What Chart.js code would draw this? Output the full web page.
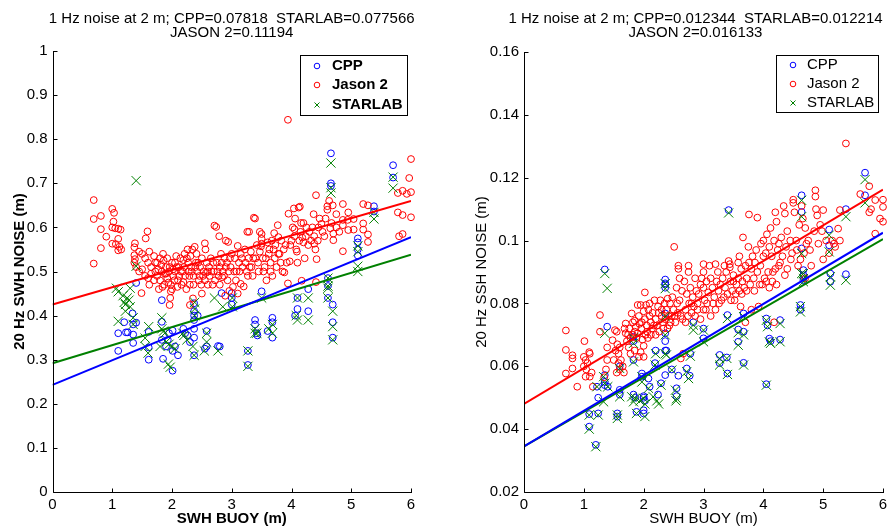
<!DOCTYPE html>
<html>
<head>
<meta charset="utf-8">
<script src="https://cdn.jsdelivr.net/npm/chart.js"></script>
<style>
    html, body { margin: 0; padding: 0; background: #fff; }
    #wrap { position: relative; width: 895px; height: 526px; }
    .panel { position: absolute; top: 0; height: 526px; }
    #left { left: 0; width: 450px; }
    #right { left: 450px; width: 445px; }
</style>
</head>
<body>
<div id="wrap">
    <div class="panel" id="left"><canvas id="chartL"></canvas></div>
    <div class="panel" id="right"><canvas id="chartR"></canvas></div>
</div>
<script>
var seriesNames = ['CPP', 'Jason 2', 'STARLAB'];
var seriesColors = ['#0000ff', '#ff0000', '#008000'];

var titleL = ['1 Hz noise at 2 m; CPP=0.07818  STARLAB=0.077566', 'JASON 2=0.11194'];
var titleR = ['1 Hz noise at 2 m; CPP=0.012344  STARLAB=0.012214', 'JASON 2=0.016133'];

var xTicks = [0, 1, 2, 3, 4, 5, 6];
var xTickLabels = ['0', '1', '2', '3', '4', '5', '6'];
var yTicksL = [0, 0.1, 0.2, 0.3, 0.4, 0.5, 0.6, 0.7, 0.8, 0.9, 1];
var yTickLabelsL = ['0', '0.1', '0.2', '0.3', '0.4', '0.5', '0.6', '0.7', '0.8', '0.9', '1'];
var yTicksR = [0.02, 0.04, 0.06, 0.08, 0.1, 0.12, 0.14, 0.16];
var yTickLabelsR = ['0.02', '0.04', '0.06', '0.08', '0.1', '0.12', '0.14', '0.16'];

// regression lines, value at SWH = 0 and 6
var fitX = [0, 6];
var fitCppL = [0.243, 0.578];
var fitJasonL = [0.425, 0.660];
var fitStarL = [0.292, 0.538];
var fitCppR = [0.0345, 0.1025];
var fitJasonR = [0.0480, 0.1162];
var fitStarR = [0.0345, 0.1005];

// 20 Hz SWH noise (left panel)
var jasonL = [
    [0.69,0.662],[0.69,0.619],[0.81,0.626],[0.81,0.596],[0.9,0.579],[0.81,0.553],[0.69,0.518],
    [1.0,0.642],[1.03,0.633],[1.02,0.613],[1.0,0.60],[1.05,0.598],[1.1,0.597],[1.14,0.595],[1.1,0.574],[1.0,0.563],
    [1.06,0.562],[1.12,0.556],[1.15,0.55],[1.1,0.548],
    [1.38,0.564],[1.37,0.555],[1.59,0.591],[1.56,0.575],[1.37,0.537],[1.38,0.528],[1.37,0.52],[1.4,0.51],[1.45,0.545],
    [1.5,0.54],[1.55,0.53],[1.6,0.52],[1.62,0.545],[1.65,0.51],[1.7,0.535],[1.72,0.5],[1.5,0.505],[1.45,0.5],[1.55,0.49],
    [1.6,0.485],[1.65,0.495],[1.49,0.451],[1.62,0.47],[1.7,0.48],[1.75,0.52],[1.78,0.46],[1.8,0.53],[1.85,0.54],[1.83,0.5],
    [1.88,0.495],[1.9,0.51],[1.92,0.485],[1.95,0.5],[1.96,0.424],[1.97,0.44],[2.0,0.46],[1.98,0.47],[2.02,0.49],[2.05,0.5],
    [2.05,0.52],[2.08,0.51],[2.1,0.48],[2.12,0.49],[2.15,0.5],[2.19,0.476],[2.19,0.526],[2.2,0.51],[2.22,0.49],[2.25,0.53],
    [2.26,0.55],[2.28,0.5],[2.3,0.424],[2.3,0.47],[2.32,0.51],[2.34,0.55],[2.35,0.439],[2.36,0.49],[2.38,0.556],[2.4,0.52],
    [2.42,0.5],[2.45,0.48],[2.47,0.51],[2.5,0.45],[2.5,0.53],[2.52,0.49],[2.55,0.564],[2.56,0.55],[2.57,0.497],[2.58,0.52],
    [2.6,0.47],[2.62,0.51],[2.65,0.53],[2.68,0.47],[2.7,0.5],[2.71,0.604],[2.74,0.601],[2.75,0.52],[2.78,0.49],[2.79,0.58],
    [2.8,0.51],[2.82,0.54],[2.84,0.487],[2.85,0.5],[2.88,0.53],[2.89,0.445],[2.9,0.57],[2.92,0.52],[2.94,0.567],[2.95,0.5],
    [2.96,0.456],[2.98,0.51],[3.0,0.54],[3.02,0.465],[3.05,0.53],[3.08,0.5],[3.1,0.45],[3.1,0.558],[3.12,0.52],[3.15,0.472],
    [3.15,0.54],[3.18,0.51],[3.2,0.466],[3.22,0.55],[3.25,0.5],[3.26,0.59],[3.28,0.53],[3.29,0.59],[3.3,0.51],[3.32,0.545],
    [3.35,0.49],[3.37,0.622],[3.39,0.62],[3.4,0.53],[3.42,0.56],[3.45,0.5],[3.47,0.59],[3.49,0.557],[3.5,0.585],[3.5,0.574],
    [3.5,0.563],[3.52,0.53],[3.55,0.51],[3.58,0.48],[3.6,0.566],[3.62,0.54],[3.65,0.52],[3.65,0.5],[3.68,0.49],[3.7,0.55],
    [3.71,0.587],[3.72,0.53],[3.75,0.51],[3.77,0.605],[3.78,0.578],[3.8,0.54],[3.82,0.52],[3.85,0.5],[3.88,0.498],[3.9,0.56],
    [3.94,0.473],[3.94,0.844],[3.95,0.631],[3.97,0.523],[4.0,0.57],[4.04,0.643],[4.05,0.596],[4.05,0.58],[4.08,0.55],
    [4.09,0.545],[4.1,0.52],[4.12,0.645],[4.14,0.647],[4.15,0.59],[4.16,0.61],[4.17,0.479],[4.18,0.577],[4.2,0.61],
    [4.2,0.566],[4.22,0.53],[4.25,0.6],[4.28,0.56],[4.3,0.59],[4.35,0.6],[4.37,0.63],[4.38,0.58],[4.38,0.563],[4.4,0.55],
    [4.41,0.673],[4.41,0.476],[4.42,0.528],[4.45,0.6],[4.47,0.62],[4.5,0.608],[4.55,0.58],[4.6,0.648],[4.6,0.64],[4.63,0.66],
    [4.65,0.598],[4.69,0.65],[4.7,0.586],[4.7,0.571],[4.75,0.6],[4.86,0.653],[4.86,0.617],[4.86,0.605],[4.86,0.546],
    [4.94,0.617],[4.95,0.634],[4.95,0.594],[5.04,0.619],[5.04,0.595],[5.2,0.653],[5.2,0.609],[5.2,0.595],[5.28,0.65],
    [5.28,0.584],[5.28,0.567],[5.78,0.678],[5.78,0.634],[5.8,0.58],[5.86,0.683],[5.86,0.628],[5.86,0.585],[5.93,0.676],
    [5.97,0.712],[6.0,0.755],[6.0,0.68],[6.0,0.623],
    [1.72,0.52],[1.75,0.49],[1.77,0.505],[1.8,0.48],[1.82,0.515],[1.84,0.465],[1.86,0.525],[1.87,0.47],[1.9,0.495],
    [1.92,0.53],[1.94,0.475],[1.96,0.51],[1.98,0.455],[2.0,0.52],[2.02,0.505],[2.04,0.48],[2.07,0.535],[2.09,0.465],
    [2.11,0.51],[2.14,0.53],[2.16,0.47],[2.18,0.5],[2.21,0.54],[2.24,0.46],[2.27,0.52],[2.29,0.49],[2.31,0.535],[2.33,0.5],
    [2.36,0.47],[2.39,0.51],[2.41,0.54],[2.44,0.52],[2.46,0.49],[2.49,0.47],[2.53,0.5],[2.55,0.48],[2.6,0.5],[2.63,0.49],
    [2.66,0.5],[2.69,0.52],[2.72,0.48],[2.76,0.5],[2.8,0.47],[2.83,0.52],[2.87,0.49],[2.9,0.51],[2.93,0.48],[2.97,0.53],
    [3.04,0.5],[3.07,0.48],[3.13,0.5],[3.17,0.53],[3.23,0.52],[3.27,0.49],[3.33,0.51],[3.36,0.53],[3.44,0.52],[3.47,0.545],
    [3.53,0.5],[3.57,0.53],[3.63,0.55],[3.67,0.57],[3.73,0.56],[3.78,0.54],[3.83,0.57],[3.87,0.55],[3.92,0.52],[3.98,0.56],
    [4.02,0.6],[4.06,0.62],[4.13,0.57],[4.24,0.58],[4.33,0.57],[4.44,0.57],[4.52,0.59],[4.57,0.62],[4.67,0.61],[4.75,0.63],
    [4.8,0.59]
];
var cppL = [
    [1.10,0.36],[1.10,0.32],[1.20,0.385],[1.23,0.362],[1.26,0.362],[1.34,0.405],[1.35,0.38],[1.35,0.357],[1.35,0.338],
    [1.40,0.384],[1.40,0.474],[1.61,0.363],[1.61,0.328],[1.61,0.30],[1.83,0.435],[1.83,0.386],[1.83,0.345],[1.85,0.302],
    [1.9,0.33],[1.93,0.345],[1.95,0.36],[2.01,0.366],[2.01,0.32],[2.01,0.275],[2.05,0.33],[2.1,0.31],[2.19,0.37],
    [2.22,0.36],[2.26,0.355],[2.3,0.34],[2.37,0.428],[2.37,0.41],[2.37,0.40],[2.37,0.39],[2.37,0.37],[2.37,0.35],
    [2.37,0.31],[2.43,0.40],[2.58,0.365],[2.58,0.33],[2.55,0.325],[2.77,0.331],[2.8,0.33],[2.83,0.451],[3.0,0.451],
    [3.0,0.44],[3.0,0.425],[3.27,0.32],[3.27,0.288],[3.39,0.39],[3.39,0.38],[3.42,0.36],[3.43,0.355],[3.5,0.455],
    [3.6,0.365],[3.68,0.395],[3.68,0.385],[3.68,0.35],[4.06,0.40],[4.1,0.415],[4.1,0.44],[4.28,0.46],[4.28,0.41],
    [4.61,0.467],[4.61,0.44],[4.61,0.485],[4.69,0.425],[4.69,0.385],[4.69,0.35],[4.66,0.768],[4.66,0.70],[4.66,0.694],
    [5.7,0.741],[5.7,0.713],[5.38,0.648],[5.38,0.636],[5.11,0.575],[5.11,0.566],[5.11,0.55],[5.11,0.536]
];
var starL = [
    [1.40,0.706],[1.40,0.512],[1.07,0.462],[1.3,0.462],[1.1,0.454],[1.1,0.387],[1.18,0.445],[1.2,0.43],[1.22,0.425],
    [1.25,0.44],[1.28,0.435],[1.3,0.42],[1.35,0.395],[1.35,0.38],[1.22,0.41],[1.55,0.349],[1.55,0.33],[1.61,0.375],
    [1.6,0.315],[1.83,0.395],[1.83,0.37],[1.86,0.365],[1.88,0.36],[1.80,0.33],[1.94,0.29],[1.97,0.283],[1.9,0.34],
    [1.95,0.335],[2.0,0.33],[2.05,0.325],[2.18,0.36],[2.2,0.355],[2.25,0.345],[2.35,0.33],[2.37,0.31],[2.38,0.43],
    [2.38,0.415],[2.38,0.40],[2.58,0.36],[2.58,0.34],[2.54,0.32],[2.77,0.32],[2.71,0.44],[2.85,0.42],[3.01,0.42],
    [3.01,0.44],[3.27,0.32],[3.27,0.285],[3.39,0.37],[3.39,0.36],[3.42,0.36],[3.5,0.44],[3.62,0.37],[3.68,0.38],
    [3.68,0.36],[4.08,0.40],[4.1,0.39],[4.1,0.44],[4.28,0.39],[4.28,0.44],[4.61,0.467],[4.61,0.44],[4.61,0.485],
    [4.61,0.462],[4.69,0.41],[4.69,0.375],[4.69,0.345],[4.66,0.746],[4.66,0.69],[4.66,0.678],[5.7,0.714],[5.7,0.689],
    [5.38,0.634],[5.38,0.619],[5.11,0.558],[5.11,0.545],[5.11,0.512],[5.11,0.50]
];

// 20 Hz SSH noise (right panel)
var jasonR = [
    [0.70,0.0714],[0.70,0.0652],[0.70,0.0577],[0.81,0.0635],[0.81,0.0625],[0.81,0.0593],[0.89,0.0535],[1.01,0.0680],
    [1.0,0.063],[1.03,0.0620],[1.06,0.0610],[1.0,0.0600],[1.04,0.0590],[1.09,0.0645],[1.10,0.0640],[1.13,0.0580],
    [1.10,0.0567],[1.03,0.0567],[1.15,0.0535],
    [1.27,0.0763],[1.27,0.0710],[1.39,0.0660],[1.39,0.0620],[1.37,0.0590],[1.34,0.0565],[1.48,0.0683],[1.52,0.0715],
    [1.55,0.0710],[1.50,0.0620],[1.53,0.0650],[1.56,0.0670],[1.58,0.0640],[1.60,0.0660],[1.58,0.0610],[1.60,0.0590],
    [1.55,0.0580],[1.62,0.0620],[1.65,0.0600],
    [1.67,0.0580],[1.68,0.0720],[1.70,0.0736],[1.70,0.0705],[1.72,0.0680],[1.74,0.0700],[1.75,0.0660],[1.76,0.0720],
    [1.78,0.0690],[1.80,0.0768],[1.82,0.0740],[1.85,0.0745],[1.85,0.0710],[1.87,0.0725],[1.88,0.0690],[1.90,0.0795],
    [1.92,0.0760],[1.93,0.0735],[1.95,0.0795],[1.96,0.0720],[1.98,0.0685],[2.0,0.0775],[2.0,0.0665],[2.02,0.0835],
    [2.02,0.0750],[2.04,0.0795],[2.05,0.0730],[2.06,0.0710],[2.08,0.0780],[2.10,0.0800],[2.1,0.0760],[2.12,0.0740],
    [2.12,0.0700],[2.15,0.0770],[1.78,0.0640],[1.85,0.0650],[1.92,0.0630],[1.95,0.0645],[2.0,0.063],
    [2.18,0.0810],[2.2,0.0750],[2.22,0.0730],[2.24,0.0790],[2.25,0.0770],[2.28,0.0810],[2.30,0.0760],[2.32,0.0740],
    [2.33,0.0720],[2.35,0.0800],[2.38,0.0780],[2.40,0.0815],[2.40,0.0720],[2.42,0.0760],[2.44,0.0800],[2.45,0.0740],
    [2.48,0.0820],[2.50,0.0780],[2.51,0.0980],[2.52,0.0760],[2.55,0.0850],[2.56,0.0800],[2.58,0.0920],[2.58,0.0910],
    [2.60,0.0880],[2.60,0.0810],[2.62,0.0760],[2.62,0.0625],[2.64,0.0840],[2.66,0.0640],
    [2.68,0.0870],[2.70,0.0780],[2.72,0.0830],[2.75,0.0920],[2.75,0.0900],[2.76,0.0800],[2.78,0.0850],[2.80,0.0770],
    [2.82,0.0820],[2.84,0.0790],[2.86,0.0880],[2.88,0.0840],[2.90,0.0800],[2.92,0.0830],[2.95,0.0860],[2.97,0.0880],
    [3.0,0.0925],[3.0,0.0900],[3.0,0.0850],[3.02,0.0810],[3.04,0.0780],[3.05,0.0870],[3.08,0.0835],[3.1,0.0920],
    [3.12,0.0880],[3.15,0.0850],[3.18,0.0820],[3.2,0.0925],[3.2,0.0780],[3.22,0.0870],[3.24,0.0900],[3.25,0.0840],
    [3.28,0.0860],[3.3,0.0810],[3.32,0.0880],[3.35,0.0920],[3.36,0.0850],[3.38,0.0900],[3.4,0.0830],[3.42,0.0935],
    [3.44,0.0925],[3.44,0.0915],[3.45,0.0870],[3.48,0.0840],[3.5,0.0890],[3.5,0.0870],[3.52,0.0810],[3.55,0.0860],
    [3.58,0.0930],[3.58,0.0880],[3.6,0.0950],[3.6,0.0840],[3.62,0.0790],[3.63,0.0910],[3.65,0.0870],[3.66,0.1010],
    [3.68,0.0850],[3.7,0.0920],[3.7,0.0740],[3.72,0.0880],[3.75,0.0980],[3.76,0.1083],[3.76,0.0930],[3.78,0.0860],
    [3.8,0.0910],[3.8,0.0780],
    [3.82,0.0950],[3.84,0.0880],[3.86,0.0930],[3.88,0.0970],[3.9,0.1073],[3.9,0.0900],[3.92,0.0790],[3.95,0.0920],
    [3.96,0.0990],[3.98,0.0860],[4.0,0.1000],[4.0,0.0950],[4.02,0.0880],[4.04,0.0960],[4.06,0.1020],[4.08,0.0900],
    [4.1,0.0980],[4.1,0.0850],[4.12,0.1040],[4.14,0.0950],[4.15,0.0870],[4.18,0.1000],[4.18,0.0740],[4.2,0.1090],
    [4.2,0.0910],[4.22,0.1060],[4.22,0.0860],[4.24,0.0970],[4.26,0.0990],[4.28,0.0930],[4.3,0.1010],[4.32,0.0950],
    [4.34,0.1110],[4.36,0.1086],[4.36,0.0890],[4.38,0.0980],[4.4,0.1030],[4.4,0.0910],
    [4.45,0.1000],[4.48,0.0960],[4.5,0.1130],[4.5,0.1120],[4.52,0.1090],[4.55,0.1000],[4.58,0.0920],[4.6,0.1050],
    [4.62,0.0940],[4.64,0.1110],[4.66,0.1070],[4.7,0.1040],[4.7,0.0880],[4.72,0.0990],[4.75,0.1000],[4.78,0.0970],
    [4.8,0.0920],[4.85,0.1030],[4.87,0.1160],[4.87,0.1140],[4.88,0.1100],[4.9,0.1080],[4.92,0.0990],[4.95,0.1050],
    [4.98,0.1030],[5.0,0.1097],[5.0,0.0940],
    [5.05,0.1000],[5.1,0.0960],[5.15,0.1000],[5.18,0.0990],[5.2,0.0980],[5.25,0.1038],[5.28,0.1097],[5.28,0.1000],
    [5.38,0.1309],[5.62,0.1148],[5.77,0.1173],[5.77,0.1090],[5.8,0.1100],[5.87,0.1129],[5.87,0.1022],[5.95,0.1070],
    [6.0,0.1130],[6.0,0.1107],[6.0,0.1060],
    [1.82,0.0700],[1.9,0.0705],[1.97,0.0740],[2.03,0.0700],[2.07,0.0690],[2.14,0.0720],[2.17,0.0730],[2.2,0.0700],
    [2.26,0.0710],[2.3,0.0780],[2.36,0.0750],[2.43,0.0730],[2.47,0.0760],[2.53,0.0740],[2.57,0.0770],[2.65,0.0750],
    [2.7,0.0740],[2.74,0.0760],[2.8,0.0800],[2.86,0.0760],[2.9,0.0780],[2.95,0.0750],[3.0,0.0780],[3.06,0.0800],
    [3.12,0.0760],[3.16,0.0800],[3.26,0.0800],[3.34,0.0820],[3.46,0.0810],[3.54,0.0830],[3.64,0.0830],[3.72,0.0840],
    [3.85,0.0840],[3.94,0.0860],[4.05,0.0870],[4.16,0.0900],[4.26,0.0920],[4.46,0.0940],[4.56,0.0970],[4.68,0.0960]
];
var cppR = [
    [1.35,0.0908],[1.39,0.0726],[1.35,0.0572],[1.35,0.0550],[1.35,0.0540],[1.40,0.0535],[1.09,0.0448],[1.09,0.0408],
    [1.20,0.0350],[1.24,0.0500],[1.24,0.0450],[1.22,0.0535],[1.56,0.0450],[1.56,0.0440],[1.60,0.0525],[1.60,0.0510],
    [1.60,0.0600],[1.83,0.0694],[1.83,0.0680],[1.83,0.0620],[1.83,0.0510],[1.86,0.0500],[1.88,0.0455],[1.97,0.0577],
    [1.97,0.0567],[2.0,0.0500],[2.0,0.0505],[2.02,0.0490],[2.0,0.0460],[2.0,0.0450],[2.08,0.0561],[2.1,0.0535],
    [2.2,0.0650],[2.19,0.0610],[2.24,0.0510],[2.29,0.0546],[2.36,0.0876],[2.36,0.0864],[2.36,0.0860],[2.36,0.0850],
    [2.36,0.0768],[2.36,0.0705],[2.36,0.0680],[2.36,0.0650],[2.38,0.0650],[2.36,0.0572],[2.47,0.0590],[2.55,0.0530],
    [2.55,0.0505],[2.58,0.0570],[2.72,0.0593],[2.78,0.0640],[2.77,0.0570],[2.83,0.0740],[3.0,0.0720],[3.0,0.0689],
    [3.27,0.0636],[3.27,0.0610],[3.39,0.0628],[3.40,0.0577],[3.40,0.0763],[3.42,0.1097],[3.58,0.0717],[3.58,0.0678],
    [3.67,0.0710],[3.67,0.0611],[3.67,0.0768],[4.05,0.0752],[4.07,0.0730],[4.1,0.0688],[4.12,0.0680],[4.05,0.0543],
    [4.28,0.0685],[4.28,0.0747],[4.62,0.0795],[4.62,0.0780],[4.67,0.0906],[4.67,0.0890],[4.67,0.0874],[4.64,0.1144],
    [4.64,0.1091],[4.64,0.0975],[5.1,0.1035],[5.1,0.0985],[5.12,0.0895],[5.12,0.0869],[5.38,0.1100],[5.38,0.0893],
    [5.7,0.1216],[5.7,0.1144]
];
var starR = [
    [1.35,0.0895],[1.39,0.0848],[1.35,0.0705],[1.33,0.0567],[1.35,0.0546],[1.40,0.0535],[1.33,0.0487],[1.09,0.0445],
    [1.09,0.0400],[1.20,0.0344],[1.24,0.0445],[1.22,0.0535],[1.56,0.0445],[1.56,0.0434],[1.60,0.0503],[1.60,0.0593],
    [1.83,0.0690],[1.83,0.0673],[1.83,0.0614],[1.80,0.0503],[1.83,0.0487],[1.86,0.0498],[1.88,0.0450],[1.97,0.0567],
    [1.97,0.0550],[1.94,0.0490],[2.0,0.0498],[2.02,0.0480],[2.02,0.0440],[2.08,0.0530],[2.16,0.0503],[2.2,0.0640],
    [2.19,0.0604],[2.22,0.0490],[2.25,0.0480],[2.29,0.0540],[2.36,0.0863],[2.36,0.0847],[2.36,0.0758],[2.36,0.0700],
    [2.36,0.0640],[2.38,0.0636],[2.47,0.0588],[2.53,0.0524],[2.55,0.0497],[2.54,0.0490],[2.72,0.0583],[2.78,0.0632],
    [2.75,0.0561],[2.83,0.0731],[2.83,0.0715],[3.0,0.0715],[3.0,0.0678],[3.27,0.0625],[3.27,0.0604],[3.39,0.0625],
    [3.40,0.0574],[3.40,0.0752],[3.42,0.1088],[3.58,0.0707],[3.58,0.0667],[3.67,0.0700],[3.67,0.0604],[3.67,0.0758],
    [4.05,0.0746],[4.07,0.0726],[4.1,0.0678],[4.12,0.0673],[4.05,0.0540],[4.28,0.0736],[4.28,0.0678],[4.62,0.0790],
    [4.62,0.0773],[4.67,0.0895],[4.67,0.0879],[4.67,0.0869],[4.64,0.1128],[4.64,0.1076],[4.64,0.0959],[4.64,0.0895],
    [5.1,0.1017],[5.1,0.0964],[5.12,0.0885],[5.12,0.0858],[5.38,0.1076],[5.38,0.0874],[5.7,0.1194],[5.7,0.1120]
];

Chart.defaults.font.family = '"Liberation Sans", Arial, Helvetica, sans-serif';
Chart.defaults.color = '#000';

function toXY(pairs) {
    return pairs.map(function (p) { return { x: p[0], y: p[1] }; });
}

function fitLine(ys) {
    return fitX.map(function (x, i) { return { x: x, y: ys[i] }; });
}

// MATLAB style axes: only left and bottom lines, ticks pointing inwards
var matlabAxes = {
    id: 'matlabAxes',
    afterDraw: function (chart) {
        var ctx = chart.ctx, a = chart.chartArea;
        var xs = chart.scales.x, ys = chart.scales.y;
        var l = Math.round(a.left) + 0.5, b = Math.round(a.bottom) + 0.5;
        ctx.save();
        ctx.strokeStyle = '#000';
        ctx.lineWidth = 1;
        ctx.beginPath();
        ctx.moveTo(l, Math.round(a.top));
        ctx.lineTo(l, b);
        ctx.lineTo(Math.round(a.right) + 1, b);
        xs.ticks.forEach(function (t) {
            var p = Math.round(xs.getPixelForValue(t.value)) + 0.5;
            ctx.moveTo(p, b);
            ctx.lineTo(p, b - 4);
        });
        ys.ticks.forEach(function (t) {
            var p = Math.round(ys.getPixelForValue(t.value)) + 0.5;
            ctx.moveTo(l, p);
            ctx.lineTo(l + 4, p);
        });
        ctx.stroke();
        ctx.restore();
    }
};

var panelTitle = {
    id: 'panelTitle',
    afterDraw: function (chart, args, opts) {
        var ctx = chart.ctx, a = chart.chartArea;
        var cx = (a.left + a.right) / 2 + opts.dx;
        ctx.save();
        ctx.font = opts.font;
        ctx.fillStyle = '#000';
        ctx.textAlign = 'center';
        ctx.textBaseline = 'middle';
        opts.lines.forEach(function (t, i) {
            ctx.fillText(t, cx, opts.y[i]);
        });
        ctx.restore();
    }
};

// boxed legend inside the axes, like MATLAB's NorthEast legend
var boxLegend = {
    id: 'boxLegend',
    afterDraw: function (chart, args, opts) {
        var ctx = chart.ctx;
        ctx.save();
        ctx.fillStyle = '#fff';
        ctx.fillRect(opts.x, opts.y, opts.w, opts.h);
        ctx.strokeStyle = '#000';
        ctx.lineWidth = 1;
        ctx.strokeRect(opts.x + 0.5, opts.y + 0.5, opts.w, opts.h);
        ctx.font = opts.font;
        ctx.textBaseline = 'middle';
        for (var i = 0; i < seriesNames.length; i++) {
            var mx = opts.x + opts.markX, my = opts.y + opts.rows[i];
            ctx.strokeStyle = seriesColors[i];
            ctx.beginPath();
            if (i === 2) {
                ctx.moveTo(mx - 2.5, my - 2.5); ctx.lineTo(mx + 2.5, my + 2.5);
                ctx.moveTo(mx + 2.5, my - 2.5); ctx.lineTo(mx - 2.5, my + 2.5);
            } else {
                ctx.arc(mx, my, 2.8, 0, Math.PI * 2);
            }
            ctx.stroke();
            ctx.fillStyle = '#000';
            ctx.fillText(seriesNames[i], opts.x + opts.textX, my);
        }
        ctx.restore();
    }
};

function makeChart(id, p) {
    var ctx = document.getElementById(id).getContext('2d');
    var pointSets = [p.cpp, p.jason, p.star];
    var datasets = pointSets.map(function (pts, i) {
        return {
            label: seriesNames[i],
            data: toXY(pts),
            pointStyle: i === 2 ? 'crossRot' : 'circle',
            pointRadius: i === 2 ? 6.5 : 3.4,
            pointBorderWidth: 1,
            borderColor: seriesColors[i],
            backgroundColor: 'rgba(0,0,0,0)',
            showLine: false,
            clip: false,
            order: [4, 3, 2][i]
        };
    });
    [p.fitCpp, p.fitJason, p.fitStar].forEach(function (f, i) {
        datasets.push({
            label: seriesNames[i] + ' fit',
            data: fitLine(f),
            showLine: true,
            borderColor: seriesColors[i],
            borderWidth: 2,
            pointRadius: 0,
            order: 1
        });
    });

    return new Chart(ctx, {
        type: 'scatter',
        data: { datasets: datasets },
        options: {
            responsive: true,
            maintainAspectRatio: false,
            animation: false,
            layout: { padding: p.padding },
            plugins: {
                legend: { display: false },
                tooltip: { enabled: false },
                panelTitle: { lines: p.title, dx: p.titleDx, y: [19, 33], font: '15px "Liberation Sans", Arial, sans-serif' },
                boxLegend: p.legend
            },
            scales: {
                x: {
                    type: 'linear',
                    min: 0,
                    max: 6,
                    afterFit: function (s) { s.height = 34; },
                    afterBuildTicks: function (s) { s.ticks = xTicks.map(function (v) { return { value: v }; }); },
                    ticks: {
                        autoSkip: false,
                        maxRotation: 0,
                        padding: 4,
                        font: { size: 15 },
                        callback: function (v, i) { return xTickLabels[i]; }
                    },
                    grid: { display: false, drawTicks: false },
                    border: { display: false },
                    title: {
                        display: true,
                        text: 'SWH BUOY (m)',
                        font: { size: 15, weight: p.bold ? 'bold' : 'normal', lineHeight: 1 },
                        padding: 0
                    }
                },
                y: {
                    type: 'linear',
                    min: p.yMin,
                    max: p.yMax,
                    afterFit: function (s) { s.width = p.yWidth; },
                    afterBuildTicks: function (s) { s.ticks = p.yTicks.map(function (v) { return { value: v }; }); },
                    ticks: {
                        autoSkip: false,
                        padding: 5,
                        font: { size: 15 },
                        callback: function (v, i) { return p.yLabels[i]; }
                    },
                    grid: { display: false, drawTicks: false },
                    border: { display: false },
                    title: {
                        display: true,
                        text: p.yTitle,
                        font: { size: 15, weight: p.bold ? 'bold' : 'normal', lineHeight: 1 },
                        padding: { top: p.yTitlePad, bottom: 0 }
                    }
                }
            }
        },
        plugins: [matlabAxes, panelTitle, boxLegend]
    });
}

makeChart('chartL', {
    cpp: cppL, jason: jasonL, star: starL,
    fitCpp: fitCppL, fitJason: fitJasonL, fitStar: fitStarL,
    yMin: 0, yMax: 1, yTicks: yTicksL, yLabels: yTickLabelsL,
    yTitle: '20 Hz SWH NOISE (m)', bold: true, yWidth: 52.5, yTitlePad: 12,
    padding: { top: 51, right: 39, left: 0, bottom: 0 },
    title: titleL, titleDx: 0,
    legend: { x: 300, y: 55, w: 107, h: 60, markX: 17, textX: 32, rows: [11, 30, 50],
              font: 'bold 15px "Liberation Sans", Arial, sans-serif' }
});

makeChart('chartR', {
    cpp: cppR, jason: jasonR, star: starR,
    fitCpp: fitCppR, fitJason: fitJasonR, fitStar: fitStarR,
    yMin: 0.02, yMax: 0.16, yTicks: yTicksR, yLabels: yTickLabelsR,
    yTitle: '20 Hz SSH NOISE (m)', bold: false, yWidth: 74, yTitlePad: 24,
    padding: { top: 52, right: 12, left: 0, bottom: 0 },
    title: titleR, titleDx: -8,
    legend: { x: 326, y: 55, w: 102, h: 57, markX: 17, textX: 31, rows: [10, 29, 48],
              font: '15px "Liberation Sans", Arial, sans-serif' }
});
</script>
</body>
</html>
